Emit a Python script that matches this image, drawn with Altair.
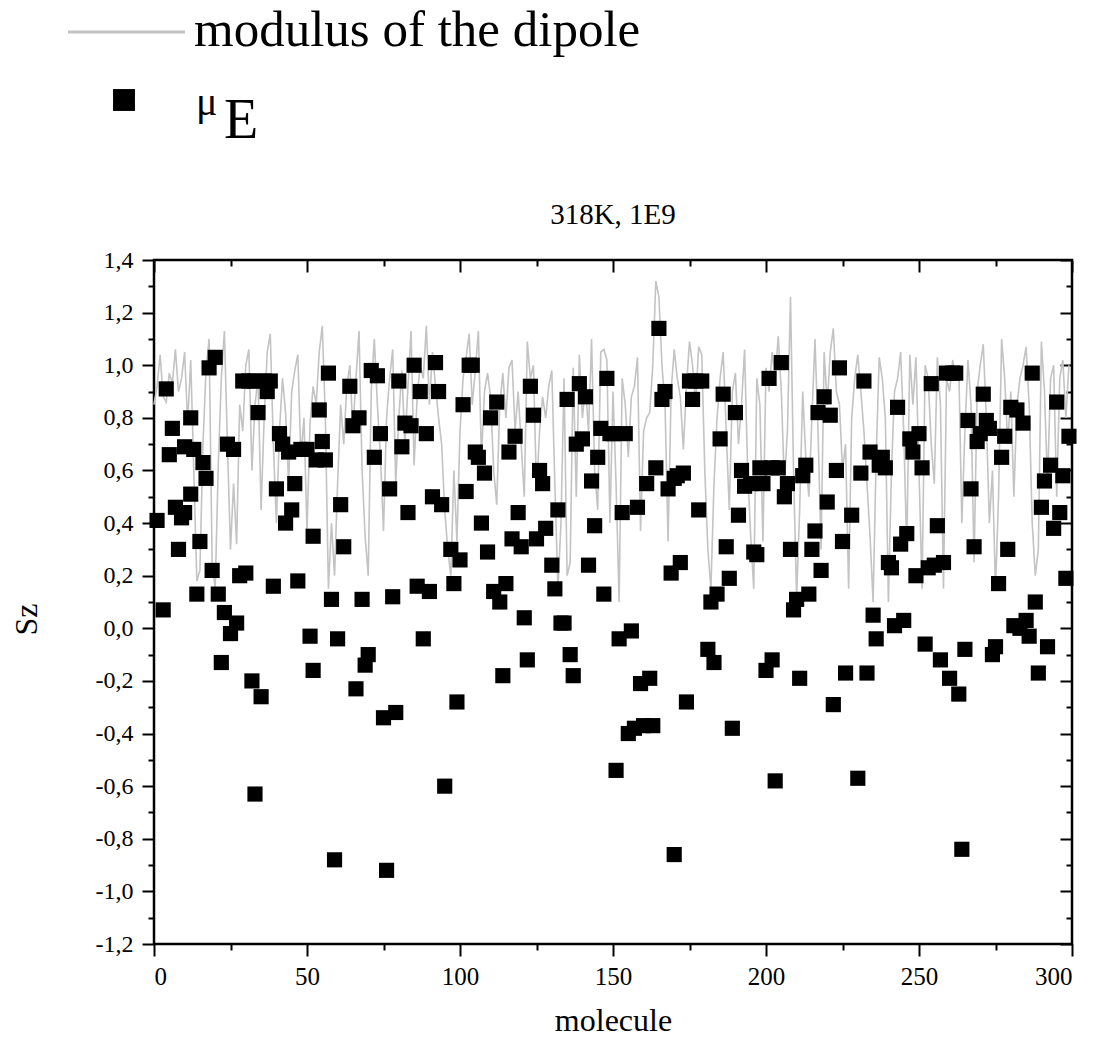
import altair as alt
import pandas as pd

FONT = "Liberation Serif"

# ---------------- data ----------------
molecule = list(range(300))
modulus = [
    0.85, 0.92, 1.04, 0.88, 0.86, 0.97, 0.93, 1.06, 0.90, 0.95,
    1.05, 0.78, 1.02, 0.60, 0.18, 0.22, 0.70, 0.98, 1.10, 0.25,
    0.15, 0.62, 0.95, 1.13, 0.70, 0.30, 0.55, 0.32, 0.85, 0.75,
    1.00, 1.06, 0.60, 0.85, 0.95, 0.45, 0.80, 1.05, 1.12, 0.70,
    0.40, 0.75, 0.95, 0.82, 0.55, 0.90, 0.98, 1.04, 0.65, 0.80,
    0.37, 0.78, 0.92, 0.85, 1.05, 1.15, 0.80, 0.15, 0.40, 0.20,
    0.55, 0.85, 0.70, 0.92, 1.00, 0.75, 0.95, 1.13, 0.60, 0.35,
    0.20, 0.90, 1.10, 0.85, 0.65, 0.37, 0.80, 0.95, 1.06, 0.55,
    0.80, 0.98, 0.70, 0.92, 1.13, 0.62, 0.88, 1.00, 0.95, 1.15,
    0.85, 1.05, 0.92, 0.80, 0.70, 0.45, 0.30, 0.20, 0.60, 0.33,
    0.75, 0.95, 1.03, 1.12, 0.85, 0.98, 1.13, 0.65, 0.90, 0.97,
    0.88, 0.60, 0.47, 0.85, 0.97, 0.80, 0.99, 1.02, 0.75, 0.90,
    0.70, 0.50, 1.09, 0.95, 1.00, 0.52, 0.75, 0.88, 0.80, 0.92,
    0.98, 0.55, 0.15, 0.40, 0.95, 0.20, 0.25, 0.99, 0.50, 1.04,
    0.80, 0.92, 0.75, 1.10, 0.60, 0.45, 1.05, 1.06, 1.02, 0.40,
    0.90, 0.55, 0.10, 0.95, 0.85, 0.65, 0.88, 0.92, 1.03, 0.37,
    0.75, 0.80, 0.82, 1.00, 1.32, 1.26, 1.00, 0.85, 0.33, 0.90,
    1.06, 0.95, 0.88, 0.68, 0.92, 1.09, 1.00, 0.85, 1.07, 1.04,
    0.60, 0.30, 0.15, 0.55, 0.80, 0.95, 1.05, 0.75, 0.45, 0.90,
    0.97, 0.70, 0.85, 1.06, 0.60, 0.35, 0.15, 0.95, 0.85, 0.33,
    0.99, 0.90, 1.05, 0.95, 1.11, 0.90, 0.55, 0.75, 1.26, 0.60,
    0.12, 0.45, 0.90, 0.65, 0.50, 0.80, 1.10, 0.75, 0.30, 1.05,
    0.85, 1.05, 1.14, 0.90, 0.85, 0.60, 0.70, 0.15, 0.80, 0.95,
    1.04, 0.90, 0.75, 0.55, 0.35, 0.10, 0.65, 1.03, 0.95, 0.80,
    0.10, 0.60, 0.90, 0.95, 1.05, 0.75, 0.30, 1.04, 0.85, 1.03,
    0.60, 0.15, 1.00, 0.95, 0.70, 0.55, 1.03, 0.85, 0.15, 0.95,
    0.90, 1.02, 0.95, 1.00, 0.40, 0.75, 1.02, 0.85, 0.25, 0.90,
    1.00, 1.08, 0.80, 0.40, 0.60, 0.15, 0.50, 1.10, 0.95, 0.70,
    0.90, 0.50, 0.85, 0.95, 1.00, 1.07, 0.85, 0.40, 0.20, 0.30,
    1.09, 0.90, 0.55, 0.95, 1.00, 0.50, 0.95, 1.02, 0.80, 1.00,
]

mu_x = [
    1, 3, 4, 5, 6, 7, 8, 9, 10, 10, 12, 12, 13, 14, 15, 16, 17, 18, 19, 20,
    21, 22, 23, 24, 25, 26, 27, 28, 29, 30, 31, 32, 33, 33, 34, 35, 36, 37, 38, 39,
    40, 41, 42, 43, 44, 45, 46, 47, 48, 50, 51, 52, 52, 53, 54, 55, 56, 57, 58, 59,
    60, 61, 62, 64, 65, 66, 67, 68, 69, 70, 71, 72, 73, 74, 75, 76, 77, 78, 79, 80,
    81, 82, 83, 84, 85, 86, 87, 88, 89, 90, 91, 92, 93, 94, 95, 97, 98, 99, 100, 101,
    102, 103, 104, 105, 106, 107, 108, 109, 110, 111, 112, 113, 114, 115, 116, 117, 118, 119, 120, 121,
    122, 123, 124, 125, 126, 127, 128, 130, 131, 132, 133, 134, 135, 136, 137, 138, 139, 140, 141, 142,
    143, 144, 145, 146, 147, 148, 149, 150, 151, 152, 153, 154, 155, 156, 157, 158, 159, 160, 161, 162,
    163, 164, 165, 166, 167, 168, 169, 170, 170, 171, 172, 173, 174, 175, 176, 177, 178, 179, 181, 182,
    183, 184, 185, 186, 187, 188, 189, 190, 191, 192, 193, 195, 196, 197, 198, 199, 200, 201, 202, 202,
    203, 204, 205, 206, 207, 208, 209, 210, 211, 212, 213, 214, 215, 216, 217, 218, 219, 220, 221, 222,
    223, 224, 225, 226, 228, 230, 231, 232, 233, 234, 235, 236, 237, 238, 239, 240, 241, 242, 243, 244,
    245, 246, 247, 248, 249, 250, 251, 252, 253, 254, 255, 256, 257, 258, 259, 260, 261, 262, 263, 264,
    265, 266, 267, 268, 269, 270, 271, 272, 273, 274, 275, 276, 277, 278, 279, 280, 281, 282, 283, 284,
    285, 286, 287, 288, 289, 290, 291, 292, 293, 294, 295, 296, 297, 298, 299,
]
mu_y = [
    0.41, 0.07, 0.91, 0.66, 0.76, 0.46, 0.30, 0.42, 0.44, 0.69, 0.51, 0.80, 0.68, 0.13, 0.33, 0.63, 0.57, 0.99, 0.22, 1.03,
    0.13, -0.13, 0.06, 0.70, -0.02, 0.68, 0.02, 0.20, 0.94, 0.21, 0.94, -0.20, 0.94, -0.63, 0.82, -0.26, 0.94, 0.90, 0.94, 0.16,
    0.53, 0.74, 0.70, 0.40, 0.67, 0.45, 0.55, 0.18, 0.68, 0.68, -0.03, 0.35, -0.16, 0.64, 0.83, 0.71, 0.64, 0.97, 0.11, -0.88,
    -0.04, 0.47, 0.31, 0.92, 0.77, -0.23, 0.80, 0.11, -0.14, -0.10, 0.98, 0.65, 0.96, 0.74, -0.34, -0.92, 0.53, 0.12, -0.32, 0.94,
    0.69, 0.78, 0.44, 0.77, 1.00, 0.16, 0.90, -0.04, 0.74, 0.14, 0.50, 1.01, 0.90, 0.47, -0.60, 0.30, 0.17, -0.28, 0.26, 0.85,
    0.52, 1.00, 1.00, 0.67, 0.65, 0.40, 0.59, 0.29, 0.80, 0.14, 0.86, 0.10, -0.18, 0.17, 0.67, 0.34, 0.73, 0.44, 0.31, 0.04,
    -0.12, 0.92, 0.81, 0.34, 0.60, 0.55, 0.38, 0.24, 0.15, 0.45, 0.02, 0.02, 0.87, -0.10, -0.18, 0.70, 0.93, 0.72, 0.88, 0.24,
    0.56, 0.39, 0.65, 0.76, 0.13, 0.95, 0.74, 0.74, -0.54, -0.04, 0.44, 0.74, -0.40, -0.01, -0.38, 0.46, -0.21, -0.37, 0.55, -0.19,
    -0.37, 0.61, 1.14, 0.87, 0.90, 0.53, 0.21, 0.57, -0.86, 0.58, 0.25, 0.59, -0.28, 0.94, 0.87, 0.94, 0.45, 0.94, -0.08, 0.10,
    -0.13, 0.13, 0.72, 0.89, 0.31, 0.19, -0.38, 0.82, 0.43, 0.60, 0.54, 0.55, 0.29, 0.28, 0.61, 0.55, -0.16, 0.95, 0.61, -0.12,
    -0.58, 0.61, 1.01, 0.50, 0.55, 0.30, 0.07, 0.11, -0.19, 0.58, 0.62, 0.13, 0.30, 0.37, 0.82, 0.22, 0.88, 0.48, 0.81, -0.29,
    0.60, 0.99, 0.33, -0.17, 0.43, -0.57, 0.59, 0.94, -0.17, 0.67, 0.05, -0.04, 0.62, 0.65, 0.61, 0.25, 0.23, 0.01, 0.84, 0.32,
    0.03, 0.36, 0.72, 0.67, 0.20, 0.74, 0.61, -0.06, 0.23, 0.93, 0.24, 0.39, -0.12, 0.25, 0.97, -0.19, 0.97, 0.97, -0.25, -0.84,
    -0.08, 0.79, 0.53, 0.31, 0.71, 0.74, 0.89, 0.79, 0.76, -0.10, -0.07, 0.17, 0.65, 0.73, 0.30, 0.84, 0.01, 0.83, 0.00, 0.78,
    0.03, -0.03, 0.97, 0.10, -0.17, 0.46, 0.56, -0.07, 0.62, 0.38, 0.86, 0.44, 0.58, 0.19, 0.73,
]

x_major = [0, 50, 100, 150, 200, 250, 300]
x_minor = [25, 75, 125, 175, 225, 275]
y_major = [-1.2, -1.0, -0.8, -0.6, -0.4, -0.2, 0.0, 0.2, 0.4, 0.6, 0.8, 1.0, 1.2, 1.4]
y_minor = [-1.1, -0.9, -0.7, -0.5, -0.3, -0.1, 0.1, 0.3, 0.5, 0.7, 0.9, 1.1, 1.3]

chart_title = ["318K, 1E9"]
x_title = "molecule"
y_title = "Sz"
legend_line_label = ["modulus of the dipole"]
legend_mu = ["\u03bc"]
legend_e = ["E"]

# ---------------- chart ----------------
line_df = pd.DataFrame({"molecule": molecule, "Sz": modulus})
pts_df = pd.DataFrame({"molecule": mu_x, "Sz": mu_y})

xs = alt.Scale(domain=[0, 300], nice=False, zero=False)
ys = alt.Scale(domain=[-1.2, 1.4], nice=False, zero=False)

label_expr = "replace(replace(format(datum.value, '.1f'), '.', ','), '\u2212', '-')"

line = alt.Chart(line_df).mark_line(color="#c3c3c3", strokeWidth=1.6).encode(
    x=alt.X("molecule:Q", scale=xs,
            axis=alt.Axis(orient="bottom", values=x_major, tickSize=12, labelPadding=8,
                          labelFont=FONT, labelFontSize=25, title=x_title,
                          titleFont=FONT, titleFontSize=32, titlePadding=16)),
    y=alt.Y("Sz:Q", scale=ys,
            axis=alt.Axis(orient="left", values=y_major, tickSize=12, labelPadding=9,
                          labelFont=FONT, labelFontSize=24, labelExpr=label_expr,
                          title=y_title, titleFont=FONT, titleFontSize=32,
                          titleX=-111, titleY=359, titleAngle=270,
                          titleAlign="center", titleBaseline="bottom")),
)

pts = alt.Chart(pts_df).mark_point(shape="square", filled=True, size=230,
                                   color="black", opacity=1).encode(
    x=alt.X("molecule:Q", scale=xs, axis=None),
    y=alt.Y("Sz:Q", scale=ys, axis=None),
)

def tick_layer(xorient, yorient, xvals, yvals, size, offset):
    return alt.Chart(line_df).mark_point(opacity=0).encode(
        x=alt.X("molecule:Q", scale=xs,
                axis=alt.Axis(orient=xorient, values=xvals, tickSize=size, offset=offset,
                              labels=False, title=None)),
        y=alt.Y("Sz:Q", scale=ys,
                axis=alt.Axis(orient=yorient, values=yvals, tickSize=size, offset=offset,
                              labels=False, title=None)),
    )

minor_out = tick_layer("bottom", "left", x_minor, y_minor, 6, 0)
major_in = tick_layer("top", "right", x_major, y_major, 12, -12)
minor_in = tick_layer("top", "right", x_minor, y_minor, 6, -6)

one = pd.DataFrame({"k": [0]})

# chart title drawn as text above plot centre
title_mark = alt.Chart(pd.DataFrame({"t": chart_title})).mark_text(
    font=FONT, fontSize=29, align="center", baseline="middle", color="black").encode(
    x=alt.value(459), y=alt.value(-45), text="t:N")

# legend (drawn above the plot)
leg_line = alt.Chart(one).mark_rule(color="#c3c3c3", strokeWidth=3).encode(
    x=alt.value(-86), x2=alt.value(31), y=alt.value(-228))
leg_text = alt.Chart(pd.DataFrame({"t": legend_line_label})).mark_text(
    font=FONT, fontSize=51, align="left", baseline="alphabetic", color="black").encode(
    x=alt.value(40), y=alt.value(-214), text="t:N")
leg_sq = alt.Chart(one).mark_point(
    shape="square", filled=True, size=480, color="black", opacity=1).encode(
    x=alt.value(-30), y=alt.value(-160))
leg_mu = alt.Chart(pd.DataFrame({"t": legend_mu})).mark_text(
    font=FONT, fontSize=40, align="left", baseline="alphabetic", color="black").encode(
    x=alt.value(42), y=alt.value(-145), text="t:N")
leg_e = alt.Chart(pd.DataFrame({"t": legend_e})).mark_text(
    font=FONT, fontSize=56, align="left", baseline="alphabetic", color="black").encode(
    x=alt.value(70), y=alt.value(-122), text="t:N")

chart = alt.layer(
    line, pts, minor_out, major_in, minor_in,
    title_mark, leg_line, leg_text, leg_sq, leg_mu, leg_e
).resolve_axis(x="independent", y="independent").properties(
    width=918, height=684,
    padding={"left": 154, "top": 260, "right": 43, "bottom": 99},
    autosize=alt.AutoSizeParams(type="none"),
).configure_view(stroke="black", strokeWidth=2.5).configure_axis(
    labelFont=FONT, labelColor="black", titleFont=FONT,
    titleFontWeight="normal", titleColor="black", tickColor="black", tickWidth=2,
    domain=False, grid=False,
)

chart.save("out.html", embed_options={"renderer": "svg", "actions": False})
